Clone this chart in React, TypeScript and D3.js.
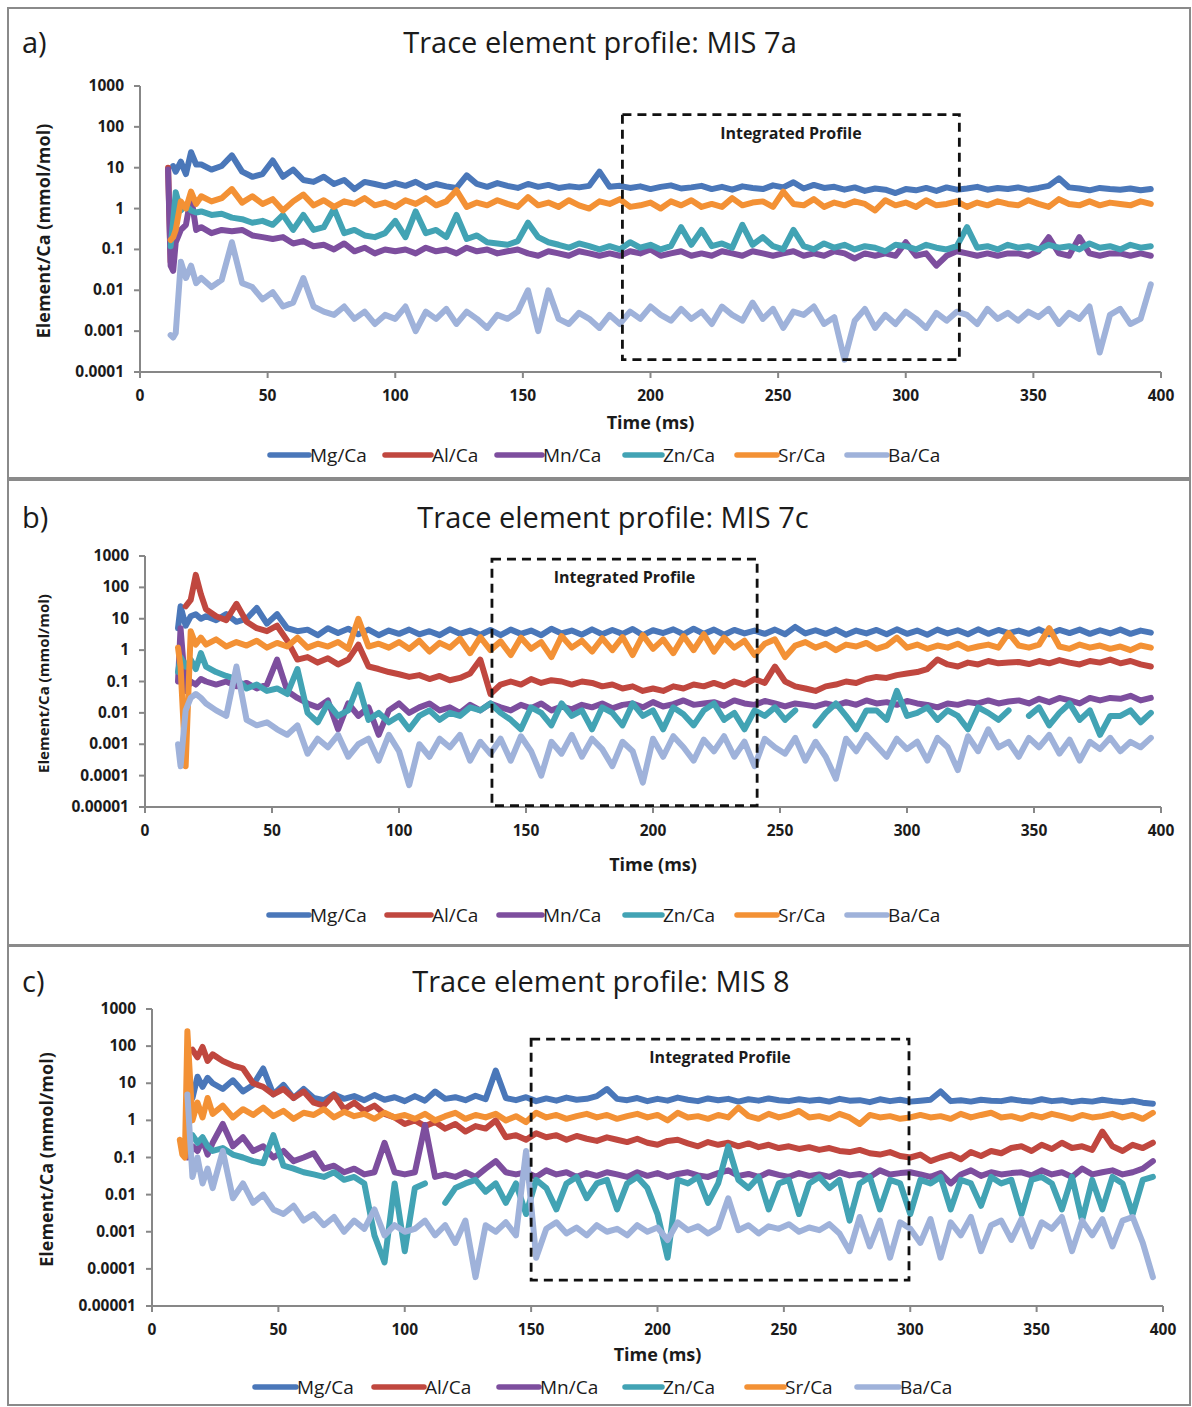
import React from 'react';
import * as d3 from 'd3';

const _ = null;

// sampling times (ms)
const TIME: number[] = [11, 12, 13, 14, 16, 18, 20, 22, ...d3.range(24, 397, 4)];

const SERIES = ['Mg/Ca', 'Al/Ca', 'Mn/Ca', 'Zn/Ca', 'Sr/Ca', 'Ba/Ca'];
const COLORS = ['#4A77B9', '#C0473F', '#7D4E9E', '#42A3B4', '#F39135', '#9FB2DA'];
const X_TICKS = [0, 50, 100, 150, 200, 250, 300, 350, 400];
const Y_TICKS_A = [0.0001, 0.001, 0.01, 0.1, 1, 10, 100, 1000];
const Y_TICKS_BC = [0.00001, 0.0001, 0.001, 0.01, 0.1, 1, 10, 100, 1000];

// ---------- Panel a: MIS 7a ----------
const A_MG = [_, _, 11, 8, 14, 7, 24, 12,
  12, 9, 11, 20, 8, 6, 7, 15, 6, 9,
  5, 4.5, 6, 4, 5, 3, 4.5, 4, 3.5, 4.2,
  3.6, 4.5, 3.3, 4, 3.5, 3.2, 6.5, 4, 3.4, 4.2,
  3.6, 3.2, 4, 3.4, 3.8, 3.2, 3.5, 3.3, 3.6, 8,
  3.4, 3.6, 3.2, 3.5, 3, 3.4, 3.7, 3.1, 3.3, 3.6,
  3, 3.4, 2.9, 3.5, 3.2, 3, 3.7, 3.3, 4.4, 3.1,
  3.8, 3.2, 3.4, 2.9, 3.3, 2.7, 3.1, 2.9, 2.4, 3,
  2.8, 3.2, 2.7, 3.3, 2.9, 3.1, 3.4, 2.9, 3.2, 3,
  3.3, 2.9, 3.2, 3.6, 5.5, 3.3, 3.1, 2.8, 3.2, 3,
  2.9, 3.1, 2.8, 3];
const A_AL = [10, 0.05, 0.1];
const A_MN = [9, 0.04, 0.03, 0.15, 0.3, 0.4, 2, 0.3,
  0.35, 0.25, 0.3, 0.28, 0.3, 0.22, 0.2, 0.18, 0.2, 0.14,
  0.16, 0.12, 0.13, 0.1, 0.14, 0.09, 0.11, 0.08, 0.1, 0.09,
  0.1, 0.08, 0.11, 0.09, 0.1, 0.08, 0.11, 0.09, 0.1, 0.08,
  0.09, 0.1, 0.08, 0.07, 0.09, 0.08, 0.07, 0.09, 0.08, 0.07,
  0.08, 0.07, 0.09, 0.08, 0.1, 0.07, 0.08, 0.09, 0.07, 0.08,
  0.07, 0.09, 0.08, 0.07, 0.09, 0.08, 0.07, 0.08, 0.09, 0.07,
  0.08, 0.07, 0.09, 0.08, 0.06, 0.08, 0.07, 0.08, 0.07, 0.15,
  0.07, 0.08, 0.04, 0.07, 0.09, 0.08, 0.07, 0.08, 0.07, 0.08,
  0.08, 0.07, 0.09, 0.2, 0.08, 0.07, 0.2, 0.08, 0.07, 0.08,
  0.08, 0.07, 0.08, 0.07];
const A_ZN = [_, 0.12, 0.5, 2.5, 0.9, 1.2, 0.9, 0.8,
  0.85, 0.7, 0.75, 0.6, 0.55, 0.45, 0.5, 0.4, 0.7, 0.3,
  0.7, 0.3, 0.35, 1, 0.25, 0.3, 0.22, 0.2, 0.25, 0.5,
  0.2, 0.85, 0.25, 0.3, 0.2, 0.7, 0.18, 0.22, 0.15, 0.14,
  0.13, 0.16, 0.45, 0.2, 0.15, 0.13, 0.11, 0.14, 0.12, 0.1,
  0.12, 0.1, 0.15, 0.11, 0.13, 0.1, 0.12, 0.35, 0.13, 0.3,
  0.12, 0.14, 0.11, 0.4, 0.13, 0.2, 0.12, 0.1, 0.3, 0.12,
  0.1, 0.14, 0.11, 0.13, 0.1, 0.12, 0.11, 0.09, 0.13, 0.12,
  0.1, 0.13, 0.11, 0.1, 0.12, 0.35, 0.11, 0.12, 0.1, 0.13,
  0.11, 0.12, 0.1, 0.13, 0.11, 0.12, 0.1, 0.14, 0.11, 0.12,
  0.1, 0.13, 0.11, 0.12];
const A_SR = [_, 0.17, 0.2, 0.3, 1.5, 1, 2.6, 1.3,
  2, 1.5, 1.8, 3, 1.4, 2, 1.3, 1.7, 0.9, 1.5,
  2.2, 1.2, 1.6, 1.1, 1.5, 1.3, 1.8, 1.2, 1.4, 1.1,
  1.6, 1.3, 1.8, 1.2, 1.5, 2.8, 1.1, 1.4, 1.2, 1.6,
  1.3, 1.1, 1.9, 1.2, 1.4, 1.1, 1.6, 1.2, 1, 1.5,
  1.3, 1.7, 1.1, 1.2, 1.4, 1, 1.5, 1.2, 1.6, 1.1,
  1.3, 1.1, 1.8, 1.2, 1.4, 1.5, 1.1, 2.6, 1.3, 1.2,
  1.7, 1.1, 1.4, 1.2, 1.5, 1.3, 0.9, 1.6, 1.2, 1.4,
  1.1, 1.6, 1.2, 1.3, 1.5, 1.1, 1.4, 1.2, 1.5, 1.3,
  1.2, 1.6, 1.3, 1.1, 1.7, 1.3, 1.2, 1.5, 1.2, 1.4,
  1.3, 1.2, 1.5, 1.3];
const A_BA = [_, 0.0008, 0.0007, 0.0009, 0.05, 0.02, 0.04, 0.015,
  0.02, 0.012, 0.018, 0.15, 0.015, 0.012, 0.006, 0.009, 0.004, 0.005,
  0.02, 0.004, 0.003, 0.0025, 0.004, 0.002, 0.003, 0.0015, 0.0025, 0.002,
  0.004, 0.001, 0.003, 0.002, 0.0035, 0.0015, 0.003, 0.002, 0.0012, 0.0025,
  0.002, 0.003, 0.01, 0.001, 0.01, 0.002, 0.0015, 0.0028, 0.002, 0.0012,
  0.0025, 0.0015, 0.003, 0.002, 0.004, 0.0025, 0.0018, 0.0035, 0.002, 0.003,
  0.0015, 0.004, 0.0025, 0.0018, 0.005, 0.002, 0.0035, 0.0012, 0.003, 0.0025,
  0.004, 0.0015, 0.0022, 0.0002, 0.0018, 0.0035, 0.0012, 0.0025, 0.0015, 0.003,
  0.002, 0.0012, 0.0028, 0.0018, 0.003, 0.0025, 0.0015, 0.0035, 0.002, 0.0028,
  0.0018, 0.003, 0.0022, 0.0035, 0.0015, 0.0028, 0.002, 0.004, 0.0003, 0.0025,
  0.0035, 0.0015, 0.002, 0.014];

// ---------- Panel b: MIS 7c ----------
const B_MG = [_, _, 5, 25, 6, 12, 14, 10,
  12, 9, 14, 8, 10, 22, 7, 14, 5, 4,
  4.5, 3, 5, 3.5, 4.8, 3.2, 4.5, 3, 4.2, 3.3,
  4.5, 3.2, 4, 3, 4.6, 3.3, 4.2, 3.1, 4.4, 3,
  4.5, 3.3, 4.2, 3, 4.8, 3.4, 4.2, 3.1, 4.6, 3.2,
  4.4, 3.3, 4.7, 3, 4.3, 3.5, 4.6, 3.2, 4.8, 3.3,
  4.5, 3.1, 4.4, 3.4, 4.2, 3.3, 4.5, 3.2, 5.5, 3.4,
  4.3, 3.3, 4.5, 3.1, 4.2, 3.4, 4.4, 3.2, 4.6, 3.3,
  4.2, 3.1, 4.5, 3.4, 4.3, 3.2, 4.6, 3.3, 4.4, 3.5,
  4.2, 3.3, 4.6, 3.2, 4.4, 3.5, 4.5, 3.3, 4.3, 3.4,
  4.5, 3.3, 4.2, 3.6];
const B_AL = [_, _, _, _, 25, 40, 250, 60,
  20, 12, 9, 30, 8, 5, 4, 6, 2, 0.5,
  0.6, 0.4, 0.55, 0.35, 0.5, 1.5, 0.3, 0.25, 0.2, 0.17,
  0.14, 0.16, 0.12, 0.15, 0.11, 0.13, 0.18, 0.5, 0.04, 0.08,
  0.1, 0.08, 0.12, 0.09, 0.11, 0.1, 0.08, 0.1, 0.09, 0.07,
  0.08, 0.06, 0.07, 0.05, 0.06, 0.05, 0.07, 0.06, 0.08, 0.07,
  0.09, 0.07, 0.1, 0.08, 0.12, 0.09, 0.3, 0.1, 0.07, 0.06,
  0.05, 0.07, 0.08, 0.1, 0.09, 0.12, 0.14, 0.13, 0.16, 0.18,
  0.2, 0.25, 0.5, 0.35, 0.3, 0.4, 0.35, 0.45, 0.38, 0.4,
  0.42, 0.36, 0.45, 0.38, 0.48, 0.4, 0.35, 0.45, 0.4, 0.5,
  0.38, 0.45, 0.35, 0.3];
const B_MN = [_, _, 0.1, 5, 0.05, 0.1, 0.08, 0.12,
  0.1, 0.08, 0.1, 0.07, 0.09, 0.06, 0.08, 0.5, 0.05, 0.03,
  0.02, 0.015, 0.025, 0.003, 0.02, 0.008, 0.015, 0.002, 0.012, 0.02,
  0.01, 0.015, 0.02, 0.012, 0.015, 0.01, 0.018, 0.012, 0.02, 0.015,
  0.012, 0.018, 0.014, 0.02, 0.012, 0.016, 0.013, 0.018, 0.015, 0.02,
  0.014, 0.018, 0.02, 0.015, 0.022, 0.016, 0.019, 0.025, 0.018, 0.02,
  0.022, 0.017, 0.025, 0.02, 0.018, 0.024, 0.02, 0.016, 0.02, 0.018,
  0.016, 0.02, 0.017, 0.022, 0.018, 0.025, 0.02, 0.022, 0.018, 0.024,
  0.02, 0.018, 0.015, 0.02, 0.018, 0.022, 0.02, 0.025, 0.02, 0.023,
  0.025, 0.02, 0.028, 0.022, 0.03, 0.025, 0.02, 0.03, 0.025, 0.03,
  0.028, 0.035, 0.025, 0.03];
const B_ZN = [_, _, 0.2, 0.6, 0.3, 0.5, 0.25, 0.8,
  0.3, 0.2, 0.15, 0.12, 0.06, 0.08, 0.05, 0.06, 0.04, 0.25,
  0.01, 0.005, 0.02, 0.008, 0.012, 0.08, 0.006, 0.01, 0.005, 0.008,
  0.003, 0.008, 0.012, 0.006, 0.01, 0.008, 0.015, 0.012, 0.02, 0.01,
  0.006, 0.003, 0.015, 0.01, 0.004, 0.02, 0.008, 0.012, 0.003, 0.015,
  0.01, 0.004, 0.02, 0.008, 0.012, 0.003, 0.015, 0.009, 0.004, 0.012,
  0.02, 0.006, 0.01, 0.003, 0.012, 0.008, 0.015, 0.006, 0.012, _,
  0.004, 0.01, 0.02, 0.008, 0.003, 0.012, 0.012, 0.006, 0.05, 0.008,
  0.01, 0.015, 0.006, 0.012, 0.008, 0.003, 0.015, 0.01, 0.006, 0.012,
  _, 0.008, 0.015, 0.004, 0.01, 0.02, 0.006, 0.012, 0.002, 0.008,
  0.008, 0.012, 0.005, 0.01];
const B_SR = [_, _, 1.2, 0.3, 0.0002, 4, 1.5, 2.5,
  1.5, 2.2, 1.3, 1.8, 1.4, 2, 1.2, 1.7, 1.3, 2.5,
  1.2, 1.6, 1.3, 1.8, 1.1, 10, 1.3, 1.6, 1.2, 1.8,
  1.1, 2, 0.9, 1.7, 1.2, 2.3, 0.8, 2.6, 1, 1.9,
  0.7, 2.5, 1.1, 1.8, 0.6, 2.8, 1.2, 2, 0.9, 2.4,
  1, 2.6, 0.7, 3, 1.1, 2.2, 0.8, 2.8, 1, 3.2,
  0.9, 2.5, 1.2, 2, 0.7, 1.6, 2.2, 0.6, 1.4, 1.8,
  1.2, 1.6, 1, 1.5, 1.3, 1.7, 1.1, 1.4, 2.5, 1.2,
  1.5, 1.1, 1.4, 1.2, 1.6, 1.1, 1.3, 1.5, 1.2, 3.5,
  1.4, 1.2, 1.5, 5, 1.3, 1.1, 1.5, 1.2, 1.4, 1.1,
  1.3, 1, 1.4, 1.2];
const B_BA = [_, _, 0.001, 0.0002, 0.012, 0.03, 0.04, 0.03,
  0.02, 0.012, 0.008, 0.3, 0.006, 0.004, 0.005, 0.003, 0.002, 0.004,
  0.0005, 0.0015, 0.0008, 0.002, 0.0004, 0.001, 0.0015, 0.0003, 0.002, 0.0006,
  0.00005, 0.001, 0.0004, 0.0015, 0.0008, 0.002, 0.0003, 0.0012, 0.0005, 0.0015,
  0.0003, 0.0018, 0.0006, 0.0001, 0.0012, 0.0005, 0.002, 0.0004, 0.0015, 0.0007,
  0.0002, 0.0012, 0.0006, 0.00006, 0.0015, 0.0004, 0.0018, 0.0008, 0.0003, 0.0014,
  0.0006, 0.0018, 0.0004, 0.0012, 0.0002, 0.0015, 0.0008, 0.0005, 0.0016, 0.0003,
  0.0012, 0.0004, 0.00008, 0.0015, 0.0006, 0.002, 0.0009, 0.0004, 0.0015, 0.0007,
  0.0012, 0.0003, 0.0016, 0.0008, 0.00015, 0.0018, 0.0006, 0.003, 0.0008, 0.0012,
  0.0004, 0.0016, 0.0008, 0.002, 0.0005, 0.0014, 0.0003, 0.0012, 0.0007, 0.0016,
  0.0006, 0.0012, 0.0008, 0.0016];

// ---------- Panel c: MIS 8 ----------
const C_MG = [_, _, _, _, 4, 15, 8, 14,
  10, 7, 12, 6, 9, 25, 5, 9, 4, 7,
  4, 3.5, 5, 3.8, 4.5, 3.5, 4.8, 3.6, 4.2, 3.3,
  4.5, 3.4, 6, 3.8, 4.2, 3.5, 4.6, 3.7, 22, 4,
  3.5, 4.2, 3.3, 3.9, 3.4, 4.1, 3.6, 3.8, 4.5, 7,
  3.8, 3.5, 4, 3.3, 3.8, 3.4, 4.1, 3.6, 3.3, 3.9,
  3.5, 3.8, 3.2, 3.7, 3.4, 3.9, 3.5, 3.3, 3.7, 3.4,
  3.6, 3.2, 3.8, 3.4, 3.5, 3.1, 3.7, 3.3, 3.6, 3.2,
  3.4, 3.6, 6, 3.3, 3.5, 3.2, 3.6, 3.4, 3.3, 3.7,
  3.4, 3.2, 3.7, 3.3, 3.5, 3.1, 3.4, 3.2, 3.6, 3.3,
  3.1, 3.4, 3, 2.8];
const C_AL = [_, _, _, _, 80, 50, 95, 40,
  60, 40, 30, 25, 10, 8, 5, 7, 4, 6,
  3, 2.5, 5, 2, 3, 1.8, 2.5, 1.5, 1.2, 0.8,
  1, 0.7, 0.9, 0.6, 0.8, 0.5, 0.7, 0.6, 1, 0.35,
  0.4, 0.3, 0.45, 0.35, 0.4, 0.3, 0.38, 0.32, 0.28, 0.35,
  0.3, 0.26, 0.32, 0.25, 0.22, 0.28, 0.3, 0.24, 0.2, 0.26,
  0.22, 0.25, 0.2, 0.24, 0.19, 0.22, 0.18, 0.2, 0.17, 0.19,
  0.16, 0.18, 0.15, 0.14, 0.16, 0.13, 0.12, 0.14, 0.11, 0.1,
  0.12, 0.08, 0.1, 0.12, 0.09, 0.14, 0.11, 0.15, 0.13, 0.18,
  0.2, 0.15, 0.22, 0.17, 0.25, 0.18, 0.2, 0.16, 0.5, 0.2,
  0.15, 0.22, 0.18, 0.25];
const C_MN = [_, _, _, 0.1, 0.2, 0.15, 0.3, 0.12,
  0.25, 0.8, 0.2, 0.35, 0.15, 0.2, 0.1, 0.15, 0.08, 0.1,
  0.13, 0.05, 0.06, 0.04, 0.05, 0.035, 0.04, 0.25, 0.04, 0.035,
  0.04, 0.75, 0.03, 0.035, 0.03, 0.04, 0.03, 0.05, 0.08, 0.04,
  0.035, 0.04, 0.03, 0.045, 0.035, 0.04, 0.03, 0.038, 0.032, 0.04,
  0.035, 0.03, 0.04, 0.032, 0.038, 0.03, 0.036, 0.04, 0.033, 0.03,
  0.038, 0.045, 0.032, 0.036, 0.03, 0.04, 0.034, 0.03, 0.038, 0.032,
  0.035, 0.03, 0.04, 0.033, 0.036, 0.03, 0.045, 0.035, 0.038, 0.04,
  0.035, 0.03, 0.038, 0.02, 0.035, 0.045, 0.032, 0.04, 0.035, 0.038,
  0.04, 0.033, 0.045, 0.035, 0.04, 0.03, 0.05, 0.035, 0.04, 0.045,
  0.035, 0.04, 0.05, 0.08];
const C_ZN = [_, _, _, 0.3, 0.4, 0.25, 0.35, 0.2,
  0.15, 0.18, 0.12, 0.1, 0.08, 0.07, 0.4, 0.06, 0.05, 0.04,
  0.035, 0.03, 0.04, 0.025, 0.03, 0.02, 0.0008, 0.00015, 0.02, 0.0003,
  0.015, 0.02, _, 0.006, 0.015, 0.02, 0.025, 0.012, 0.02, 0.006,
  0.02, 0.003, 0.025, 0.015, 0.004, 0.02, 0.03, 0.008, 0.02, 0.025,
  0.004, 0.02, 0.03, 0.015, 0.003, 0.0002, 0.025, 0.02, 0.03, 0.006,
  0.02, 0.2, 0.025, 0.015, 0.03, 0.004, 0.02, 0.025, 0.003, 0.02,
  0.03, 0.015, 0.025, 0.002, 0.02, 0.03, 0.004, 0.025, 0.02, 0.003,
  0.025, 0.02, 0.03, 0.004, 0.025, 0.02, 0.005, 0.03, 0.02, 0.025,
  0.003, 0.025, 0.03, 0.02, 0.004, 0.03, 0.002, 0.025, 0.004, 0.03,
  0.02, 0.003, 0.025, 0.03];
const C_SR = [0.3, 0.12, 0.1, 250, 1, 3, 1.2, 4,
  1.5, 2.5, 1.2, 2, 1.4, 2.2, 1.3, 1.8, 1.1, 1.6,
  1.4, 2, 1.2, 1.7, 1.3, 1.5, 1.1, 1.6, 1.2, 1.4,
  1.1, 1.5, 1, 1.3, 1.6, 1.1, 1.4, 1.2, 1.5, 1,
  1.3, 0.9, 1.6, 1.2, 1.4, 1.1, 1.3, 1.5, 1.2, 1.4,
  1.1, 1.3, 1.5, 1.2, 1.4, 1, 1.6, 1.2, 1.3, 1.1,
  1.4, 1.2, 2.2, 1.3, 1.1, 1.5, 1.2, 1.4, 1.8, 1.2,
  1.3, 1.1, 1.5, 1.2, 0.8, 1.4, 1.2, 1.3, 1.1, 1.2,
  1.4, 1.2, 1.3, 1.1, 1.5, 1.2, 1.4, 1.6, 1.2, 1.3,
  1.1, 1.4, 1.2, 1.5, 1.3, 1.1, 1.4, 1.2, 1.3, 1.5,
  1.2, 1.4, 1.1, 1.6];
const C_BA = [_, _, _, 5, 0.03, 0.1, 0.02, 0.05,
  0.015, 0.15, 0.008, 0.02, 0.006, 0.01, 0.004, 0.003, 0.005, 0.002,
  0.003, 0.0015, 0.0025, 0.001, 0.002, 0.0012, 0.004, 0.0008, 0.0015, 0.001,
  0.0012, 0.002, 0.0008, 0.0015, 0.0005, 0.002, 0.00006, 0.0015, 0.001, 0.0018,
  0.0008, 0.15, 0.0002, 0.0012, 0.0018, 0.0009, 0.0013, 0.0008, 0.0015, 0.001,
  0.0012, 0.0008, 0.0015, 0.001, 0.0013, 0.0006, 0.0018, 0.0011, 0.0014, 0.0009,
  0.0013, 0.008, 0.0011, 0.0015, 0.0009, 0.0014, 0.0012, 0.0016, 0.001, 0.0013,
  0.0011, 0.0016, 0.0009, 0.0003, 0.0025, 0.0004, 0.002, 0.0002, 0.0018, 0.0012,
  0.0005, 0.0022, 0.0002, 0.0018, 0.0008, 0.0025, 0.0003, 0.0015, 0.002, 0.0006,
  0.0022, 0.0004, 0.0018, 0.0012, 0.0025, 0.0003, 0.002, 0.0008, 0.0022, 0.0004,
  0.002, 0.0025, 0.0005, 0.00006];

// integrated-profile windows: [tStart, tEnd, yLow, yHigh]
const BOX_A = [189, 321, 0.0002, 200];
const BOX_B = [136.6, 241, 0.000011, 800];
const BOX_C = [150, 299.5, 0.00005, 155];

const TITLES = ['Trace element profile: MIS 7a', 'Trace element profile: MIS 7c', 'Trace element profile: MIS 8'];

const FONT = "'Open Sans', 'DejaVu Sans', sans-serif";
const TXT = '#1b1b1b';
const AXIS = '#878787';

const PANELS = [
  {
    label: 'a)', title: TITLES[0], frame: [8, 8, 1182, 470], titleY: 43, titleX: 600,
    x0: 140, x1: 1161, y0: 86, y1: 372, yMin: 0.0001, yTicks: Y_TICKS_A,
    box: BOX_A, data: [A_MG, A_AL, A_MN, A_ZN, A_SR, A_BA],
    yTitleX: 45, yTitleSize: 18, timeY: 423, legendY: 455,
    legend: [[268, 310], [383, 432], [495, 543], [623, 663], [735, 778], [845, 888]],
  },
  {
    label: 'b)', title: TITLES[1], frame: [8, 480, 1182, 465], titleY: 518, titleX: 613,
    x0: 145, x1: 1161, y0: 556, y1: 807, yMin: 0.00001, yTicks: Y_TICKS_BC,
    box: BOX_B, data: [B_MG, B_AL, B_MN, B_ZN, B_SR, B_BA],
    yTitleX: 45, yTitleSize: 15, timeY: 865, legendY: 915,
    legend: [[267, 310], [385, 432], [497, 543], [623, 663], [735, 778], [845, 888]],
  },
  {
    label: 'c)', title: TITLES[2], frame: [8, 946, 1182, 459], titleY: 982, titleX: 601,
    x0: 152, x1: 1163, y0: 1009, y1: 1306, yMin: 0.00001, yTicks: Y_TICKS_BC,
    box: BOX_C, data: [C_MG, C_AL, C_MN, C_ZN, C_SR, C_BA],
    yTitleX: 48, yTitleSize: 18, timeY: 1355, legendY: 1387,
    legend: [[253, 297], [372, 425], [497, 540], [623, 663], [745, 785], [855, 900]],
  },
];

function fmt(v: number): string {
  if (v >= 1) return String(v);
  return v.toFixed(Math.round(-Math.log10(v)));
}

function Panel({ p }: { p: any }) {
  const x = d3.scaleLinear().domain([0, 400]).range([p.x0, p.x1]);
  const y = d3.scaleLog().domain([p.yMin, 1000]).range([p.y1, p.y0]);
  const line = d3.line<{ t: number; v: number | null }>()
    .defined(d => d.v != null && (d.v as number) > 0)
    .x(d => x(d.t))
    .y(d => y(d.v as number));
  const [fx, fy, fw, fh] = p.frame;
  const [b0, b1, bl, bh] = p.box;
  const bx0 = x(b0), bx1 = x(b1), by0 = y(bh), by1 = y(bl);
  return (
    <g>
      <rect x={fx} y={fy} width={fw} height={fh} fill="#fff" stroke="#8a8a8a" strokeWidth={2} />
      <text x={22} y={p.titleY + 10} fontFamily={FONT} fontSize={29} fill={TXT}>{p.label}</text>
      <text x={p.titleX} y={p.titleY + 10} textAnchor="middle" fontFamily={FONT} fontSize={29} fill={TXT}>{p.title}</text>

      {/* axes */}
      <line x1={p.x0} x2={p.x0} y1={p.y0} y2={p.y1} stroke={AXIS} strokeWidth={2} />
      <line x1={p.x0} x2={p.x1} y1={p.y1} y2={p.y1} stroke={AXIS} strokeWidth={2} />
      {p.yTicks.map((t: number) => (
        <g key={'y' + t}>
          <line x1={p.x0 - 6} x2={p.x0} y1={y(t)} y2={y(t)} stroke={AXIS} strokeWidth={2} />
          <text x={p.x0 - 16} y={y(t) + 5} textAnchor="end" fontFamily={FONT} fontWeight="bold" fontSize={15.5} fill={TXT}>{fmt(t)}</text>
        </g>
      ))}
      {X_TICKS.map(t => (
        <g key={'x' + t}>
          <line x1={x(t)} x2={x(t)} y1={p.y1} y2={p.y1 + 6} stroke={AXIS} strokeWidth={2} />
          <text x={x(t)} y={p.y1 + 29} textAnchor="middle" fontFamily={FONT} fontWeight="bold" fontSize={15.5} fill={TXT}>{t}</text>
        </g>
      ))}
      <text transform={`translate(${p.yTitleX},${(p.y0 + p.y1) / 2 + 2}) rotate(-90)`} textAnchor="middle" dominantBaseline="middle"
        fontFamily={FONT} fontWeight="bold" fontSize={p.yTitleSize} fill={TXT}>Element/Ca (mmol/mol)</text>
      <text x={(p.x0 + p.x1) / 2} y={p.timeY + 6} textAnchor="middle" fontFamily={FONT} fontWeight="bold" fontSize={18} fill={TXT}>Time (ms)</text>

      {/* data */}
      {p.data.map((arr: (number | null)[], si: number) => {
        const pts = TIME.map((t, i) => ({ t, v: arr[i] === undefined ? null : arr[i] }));
        return (
          <path key={SERIES[si]} d={line(pts) || ''} fill="none" stroke={COLORS[si]} strokeWidth={6}
            strokeLinejoin="round" strokeLinecap="round" />
        );
      })}

      {/* integrated profile window */}
      <rect x={bx0} y={by0} width={bx1 - bx0} height={by1 - by0} fill="none" stroke="#111" strokeWidth={2.8} strokeDasharray="9 6" />
      <text x={(bx0 + bx1) / 2} y={by0 + 24} textAnchor="middle" fontFamily={FONT} fontWeight="bold" fontSize={16} fill={TXT}>Integrated Profile</text>

      {/* legend */}
      {SERIES.map((s, i) => (
        <g key={'lg' + s}>
          <line x1={p.legend[i][0] + 2} x2={p.legend[i][1] - 1} y1={p.legendY} y2={p.legendY} stroke={COLORS[i]} strokeWidth={5.5} strokeLinecap="round" />
          <text x={p.legend[i][1]} y={p.legendY + 7} fontFamily={FONT} fontSize={19} fill={TXT}>{s}</text>
        </g>
      ))}
    </g>
  );
}

export default function App() {
  return (
    <div style={{ position: 'absolute', left: 0, top: 0 }}>
      <svg width={1192} height={1407} style={{ display: 'block', background: '#fff' }}>
        <rect x={0} y={0} width={1192} height={1407} fill="#fff" />
        {PANELS.map((p, i) => <Panel key={i} p={p} />)}
      </svg>
    </div>
  );
}
